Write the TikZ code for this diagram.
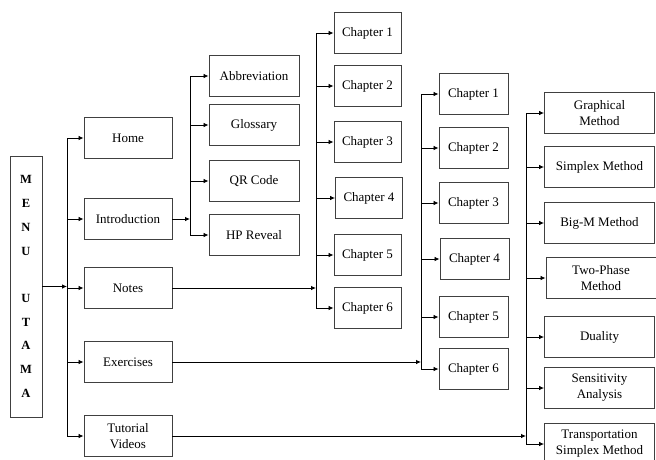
\documentclass[tikz,border=0pt]{standalone}
\usepackage{fontspec}
\setmainfont{Liberation Serif}
\newfontfamily\tnrfont{Liberation Serif}
\usetikzlibrary{arrows.meta}
\begin{document}
\begin{tikzpicture}[x=1pt,y=-1pt,
 box/.style={draw=black!75, line width=0.9pt, minimum height=41pt, inner sep=1pt, align=center, font=\tnrfont\fontsize{13}{16}\selectfont},
 lvla/.style={box, minimum width=88pt},
 lvlb/.style={box, minimum width=90pt},
 chapa/.style={box, minimum width=67pt},
 chapb/.style={box, minimum width=69pt},
 meth/.style={box, minimum width=110pt},
 link/.style={line width=0.8pt},
 arr/.style={link,-{Latex[length=5pt,width=4.5pt]}}]
\clip (0,0) rectangle (656,459);
\fill[white] (0,0) rectangle (656,459);
% main menu
\node[box, minimum width=32pt, minimum height=261pt, inner sep=0pt, font=\tnrfont\bfseries\fontsize{12.5}{23.7}\selectfont] (menu) at (26,286.5) {M\\E\\N\\U\\[23.7pt]U\\T\\A\\M\\A};
% level 1
\node[lvla] (home) at (128,138) {Home};
\node[lvla] (intro) at (128,219) {Introduction};
\node[lvla] (notes) at (128,288) {Notes};
\node[lvla] (exer) at (128,362) {Exercises};
\node[lvla] (tut) at (128,436) {Tutorial\\Videos};
% level 2
\node[lvlb] (abbr) at (254,76) {Abbreviation};
\node[lvlb] (gloss) at (254,125) {Glossary};
\node[lvlb] (qr) at (254,181) {QR Code};
\node[lvlb] (hp) at (254,235) {HP Reveal};
% chapters (notes)
\node[chapa] (ca1) at (367.5,33) {Chapter 1};
\node[chapa] (ca2) at (367.5,86) {Chapter 2};
\node[chapa] (ca3) at (367.5,142) {Chapter 3};
\node[chapa] (ca4) at (369,198) {Chapter 4};
\node[chapa] (ca5) at (367.5,255) {Chapter 5};
\node[chapa] (ca6) at (367.5,308) {Chapter 6};
% chapters (exercises)
\node[chapb] (cb1) at (473.5,94) {Chapter 1};
\node[chapb] (cb2) at (473.5,148) {Chapter 2};
\node[chapb] (cb3) at (473.5,203) {Chapter 3};
\node[chapb] (cb4) at (474.5,259) {Chapter 4};
\node[chapb] (cb5) at (473.5,317) {Chapter 5};
\node[chapb] (cb6) at (473.5,369) {Chapter 6};
% methods (videos)
\node[meth] (m1) at (599.5,113) {Graphical\\Method};
\node[meth] (m2) at (599.5,167) {Simplex Method};
\node[meth] (m3) at (599.5,223) {Big-M Method};
\node[meth] (m4) at (601,278) {Two-Phase\\Method};
\node[meth] (m5) at (599.5,337) {Duality};
\node[meth] (m6) at (599.5,388) {Sensitivity\\Analysis};
\node[meth] (m7) at (599.5,444) {Transportation\\Simplex Method};
% bus coordinates
\coordinate (b1) at (67,286.5);
\coordinate (b2) at (190,219);
\coordinate (b3) at (316,288);
\coordinate (b4) at (421,362);
\coordinate (b5) at (526,436);
% menu -> level 1
\draw[arr] (menu.east) -- (b1);
\draw[link] (b1 |- home) -- (b1 |- tut);
\foreach \n in {home,intro,notes,exer,tut} \draw[arr] (b1 |- \n) -- (\n.west);
% introduction -> level 2
\draw[arr] (intro.east) -- (b2);
\draw[link] (b2 |- abbr) -- (b2 |- hp);
\foreach \n in {abbr,gloss,qr,hp} \draw[arr] (b2 |- \n) -- (\n.west);
% notes -> chapters
\draw[arr] (notes.east) -- (b3);
\draw[link] (b3 |- ca1) -- (b3 |- ca6);
\foreach \n in {ca1,ca2,ca3,ca4,ca5,ca6} \draw[arr] (b3 |- \n) -- (\n.west);
% exercises -> chapters
\draw[arr] (exer.east) -- (b4);
\draw[link] (b4 |- cb1) -- (b4 |- cb6);
\foreach \n in {cb1,cb2,cb3,cb4,cb5,cb6} \draw[arr] (b4 |- \n) -- (\n.west);
% tutorial videos -> methods
\draw[arr] (tut.east) -- (b5);
\draw[link] (b5 |- m1) -- (b5 |- m7);
\foreach \n in {m1,m2,m3,m4,m5,m6,m7} \draw[arr] (b5 |- \n) -- (\n.west);
\end{tikzpicture}
\end{document}
